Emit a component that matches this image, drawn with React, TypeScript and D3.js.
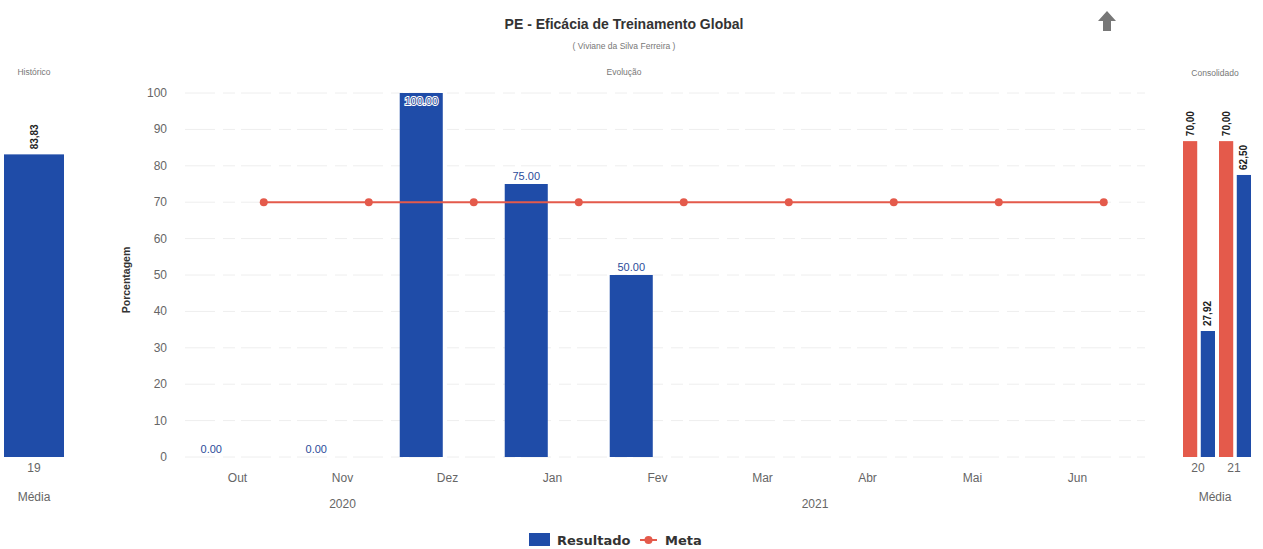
import React from "react";
import * as d3 from "d3";

const months = ["Out", "Nov", "Dez", "Jan", "Fev", "Mar", "Abr", "Mai", "Jun"];
const resultado: (number | null)[] = [0, 0, 100, 75, 50, null, null, null, null];
const meta: number[] = [70, 70, 70, 70, 70, 70, 70, 70, 70];
const yTicks = [0, 10, 20, 30, 40, 50, 60, 70, 80, 90, 100];
const years = [
  { label: "2020", from: "Out", to: "Dez" },
  { label: "2021", from: "Jan", to: "Jun" },
];
const histCats = ["19"];
const histValues = [83.83];
const consCats = ["20", "21"];
const consMeta = [70, 70];
const consResultado = [27.92, 62.5];

const BLUE = "#1f4ca8";
const RED = "#e45a4b";
const W = 1263;
const H = 549;

const fmtDot = (v: number) => v.toFixed(2);
const fmtComma = (v: number) => v.toFixed(2).replace(".", ",");

export default function App() {
  const top = 93;
  const base = 457;
  const x = d3.scaleBand<string>().domain(months).range([185, 1130]).padding(0);
  const inner = d3.scaleBand<string>().domain(["Resultado", "Meta"]).range([0, x.bandwidth()]).padding(0);
  const barW = inner.bandwidth() * 0.82;
  const y = d3.scaleLinear().domain([0, 100]).range([base, top]);

  const metaPts = months.map((m, i) => ({ x: (x(m) as number) + (inner("Meta") as number) + inner.bandwidth() / 2, y: y(meta[i]) }));
  const line = d3.line<{ x: number; y: number }>().x((d) => d.x).y((d) => d.y);

  // left panel
  const hx = d3.scaleBand<string>().domain(histCats).range([4, 64]).padding(0);
  const hy = d3.scaleLinear().domain([0, 100]).range([base, 96]);

  // right panel
  const cx = d3.scaleBand<string>().domain(consCats).range([1180, 1252]).padding(0);
  const cInner = d3.scaleBand<string>().domain(["Meta", "Resultado"]).range([3, 35]).paddingInner(0.2);
  const cy = d3.scaleLinear().domain([0, 80]).range([base, 96]);

  const gray = "#666";
  const font = "'Liberation Sans', Arial, sans-serif";

  return (
    <svg width={W} height={H} style={{ position: "absolute", left: 0, top: 0, background: "#fff" }} fontFamily={font}>
      {/* titles */}
      <text x={624} y={29} textAnchor="middle" fontSize={14} fontWeight="bold" fill="#333">
        PE - Eficácia de Treinamento Global
      </text>
      <text x={624} y={49} textAnchor="middle" fontSize={8.5} fill="#777">
        ( Viviane da Silva Ferreira )
      </text>
      <text x={624} y={75} textAnchor="middle" fontSize={8.5} fill="#777">Evolução</text>
      <text x={34} y={75} textAnchor="middle" fontSize={8.5} fill="#777">Histórico</text>
      <text x={1215} y={76} textAnchor="middle" fontSize={8.5} fill="#777">Consolidado</text>

      {/* arrow icon */}
      <path d="M1107,11 L1116,21 L1111,21 L1111,31 L1103,31 L1103,21 L1098,21 Z" fill="#777" />

      {/* gridlines */}
      {yTicks.map((t) => (
        <line key={t} x1={185} x2={1145} y1={y(t)} y2={y(t)} stroke="#eeeeee" strokeWidth={1} strokeDasharray="30,8,12,6" />
      ))}
      {yTicks.map((t) => (
        <text key={"yl" + t} x={167} y={y(t) + 4} textAnchor="end" fontSize={12} fill={gray}>{t}</text>
      ))}
      <text transform={`translate(130,280) rotate(-90)`} textAnchor="middle" fontSize={10.5} fontWeight="bold" fill="#333">
        Porcentagem
      </text>

      {/* bars */}
      {months.map((m, i) => {
        const v = resultado[i];
        if (v === null) return null;
        const cxm = (x(m) as number) + (inner("Resultado") as number) + inner.bandwidth() / 2;
        const yt = y(v);
        const ly = yt - 5 < top + 6 ? yt + 12 : yt - 4;
        return (
          <g key={m}>
            <rect x={cxm - barW / 2} y={yt} width={barW} height={base - yt} fill={BLUE} />
            <text x={cxm} y={ly} textAnchor="middle" fontSize={11} fill="#2b4c9a" stroke="#fff" strokeWidth={2} paintOrder="stroke">
              {fmtDot(v)}
            </text>
          </g>
        );
      })}

      {/* meta line */}
      <path d={line(metaPts) || ""} fill="none" stroke={RED} strokeWidth={2} />
      {metaPts.map((p, i) => (
        <circle key={i} cx={p.x} cy={p.y} r={4} fill={RED} />
      ))}

      {/* x labels */}
      {months.map((m) => (
        <text key={"xl" + m} x={(x(m) as number) + x.bandwidth() / 2} y={482} textAnchor="middle" fontSize={12} fill={gray}>{m}</text>
      ))}
      {years.map((yr) => {
        const a = (x(yr.from) as number) + x.bandwidth() / 2;
        const b = (x(yr.to) as number) + x.bandwidth() / 2;
        return (
          <text key={yr.label} x={(a + b) / 2} y={508} textAnchor="middle" fontSize={12} fill={gray}>{yr.label}</text>
        );
      })}

      {/* left panel */}
      {histCats.map((c, i) => {
        const bx = hx(c) as number;
        const yt = hy(histValues[i]);
        const mid = bx + hx.bandwidth() / 2;
        return (
          <g key={c}>
            <rect x={bx} y={yt} width={hx.bandwidth()} height={base - yt} fill={BLUE} />
            <text transform={`translate(${mid},${yt - 5}) rotate(-90)`} dominantBaseline="central" fontSize={10} fontWeight="bold" fill="#222">
              {fmtComma(histValues[i])}
            </text>
            <text x={mid} y={472} textAnchor="middle" fontSize={12} fill={gray}>{c}</text>
          </g>
        );
      })}
      <text x={34} y={501} textAnchor="middle" fontSize={12} fill={gray}>Média</text>

      {/* right panel */}
      {consCats.map((c, i) => {
        const bx = cx(c) as number;
        const mx = bx + (cInner("Meta") as number);
        const rx = bx + (cInner("Resultado") as number);
        const bw = cInner.bandwidth();
        const my = cy(consMeta[i]);
        const ry = cy(consResultado[i]);
        return (
          <g key={c}>
            <rect x={mx} y={my} width={bw} height={base - my} fill={RED} />
            <rect x={rx} y={ry} width={bw} height={base - ry} fill={BLUE} />
            <text transform={`translate(${mx + bw / 2},${my - 5}) rotate(-90)`} dominantBaseline="central" fontSize={10} fontWeight="bold" fill="#222">
              {fmtComma(consMeta[i])}
            </text>
            <text transform={`translate(${rx + bw / 2},${ry - 5}) rotate(-90)`} dominantBaseline="central" fontSize={10} fontWeight="bold" fill="#222">
              {fmtComma(consResultado[i])}
            </text>
            <text x={bx + cx.bandwidth() / 2} y={472} textAnchor="middle" fontSize={12} fill={gray}>{c}</text>
          </g>
        );
      })}
      <text x={1215} y={501} textAnchor="middle" fontSize={12} fill={gray}>Média</text>

      {/* legend */}
      <rect x={529} y={533} width={21} height={13} fill={BLUE} />
      <text x={557} y={545} fontSize={13} fontWeight="bold" fill="#333" fontFamily="'DejaVu Sans', sans-serif">Resultado</text>
      <line x1={640} x2={657} y1={540} y2={540} stroke={RED} strokeWidth={2} />
      <circle cx={648.5} cy={540} r={4} fill={RED} />
      <text x={665} y={545} fontSize={13} fontWeight="bold" fill="#333" fontFamily="'DejaVu Sans', sans-serif">Meta</text>
    </svg>
  );
}
